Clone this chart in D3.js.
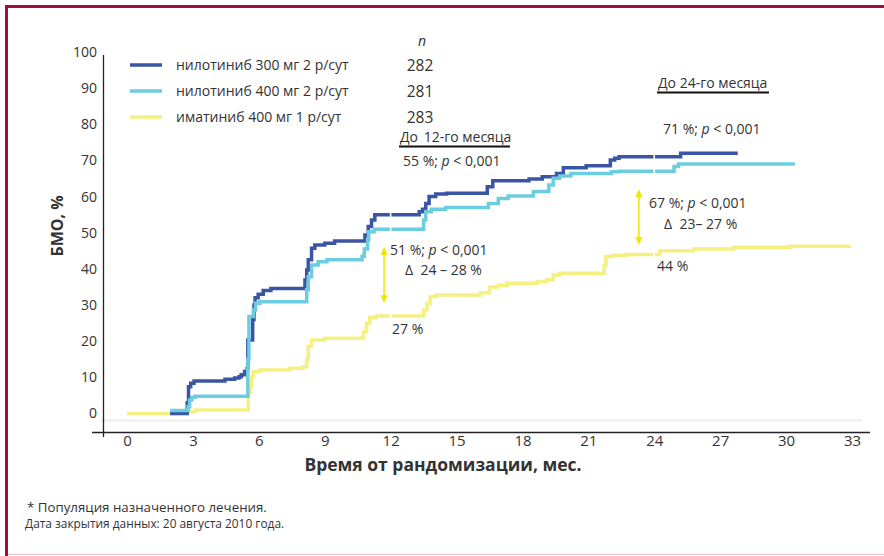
<!DOCTYPE html>
<html>
<head>
<meta charset="utf-8">
<script src="https://cdn.jsdelivr.net/npm/d3@7/dist/d3.min.js"></script>
<style>
  html, body { margin: 0; padding: 0; background: #fff; }
  svg { display: block; }
  text { font-family: "Open Sans", "Noto Sans", sans-serif; fill: #333; white-space: pre; }
</style>
</head>
<body>
<svg id="chart" width="884" height="556"></svg>
<script>
// Time axis (months since randomisation) and response axis (%)
const monthTicks = [0, 3, 6, 9, 12, 15, 18, 21, 24, 27, 30, 33];
const pctTicks = [0, 10, 20, 30, 40, 50, 60, 70, 80, 90, 100];

const armNames = ["нилотиниб 300 мг 2 р/сут", "нилотиниб 400 мг 2 р/сут", "иматиниб 400 мг 1 р/сут"];
const armN = [282, 281, 283];

// Cumulative incidence step points: [month, %], value holds from that month onward
const nilo300 = [[1.96,0],[2.74,3.0],[2.8,7.4],[2.9,8.4],[3.05,9.0],[4.46,9.5],[4.9,9.8],[5.1,10.2],[5.2,10.7],[5.35,11.6],
  [5.47,12.5],[5.5,20.3],[5.72,26],[5.78,30],[5.83,32],[5.97,33],[6.2,34.0],[6.55,34.6],[8.1,36.9],[8.18,39.7],[8.25,42.5],
  [8.4,45.7],[8.55,46.6],[9.0,47.1],[9.45,47.7],[10.83,49.4],[10.98,51.7],[11.13,53.5],[11.28,55.0],[13.3,55.8],[13.45,56.5],
  [13.6,58.1],[13.75,60.0],[14.05,60.7],[14.55,60.9],[16.4,62.7],[16.65,64.4],[18.3,64.9],[18.9,65.5],[19.55,66.4],[19.86,68.0],
  [20.9,68.5],[22.0,70.1],[22.2,70.6],[22.4,71.0],[25.2,72.0],[27.8,72.0]];
const nilo400 = [[1.96,0.8],[2.78,1.9],[2.85,3.7],[2.95,4.5],[3.1,4.8],[5.5,15],[5.55,26.8],[5.75,28.6],[5.85,30.5],[6.05,30.9],
  [8.18,34.2],[8.25,37.8],[8.4,41.1],[8.7,42.0],[9.1,42.5],[10.7,43.5],[10.8,45.5],[10.95,48.0],[11.0,50.3],[11.25,51.0],
  [13.5,53.5],[13.6,55.8],[13.85,56.5],[14.5,57.0],[16.45,58.1],[16.9,59.5],[17.35,60.2],[18.5,61.4],[19.2,63.2],[19.4,65.1],
  [19.7,65.7],[20.2,66.4],[22.05,66.9],[22.4,67.0],[24.9,68.3],[25.1,69.0],[30.4,69.0]];
const imat400 = [[0,0],[2.75,0.5],[3.1,1.0],[5.52,5.6],[5.6,7.4],[5.67,10.2],[5.75,11.6],[6.05,12.0],[7.42,12.5],[8.03,12.9],
  [8.18,15.0],[8.25,18.5],[8.4,20.3],[9.0,20.8],[10.76,22.6],[10.9,25.0],[11.05,26.5],[11.35,27.0],[13.5,28.6],[13.65,30.5],
  [13.8,32.3],[14.05,32.8],[16.07,33.4],[16.5,35.0],[16.85,35.5],[17.3,36.0],[18.67,36.5],[19.1,37.0],[19.4,38.3],[19.7,38.8],
  [21.72,41.0],[21.8,43.4],[22.1,43.8],[22.75,44.0],[24.25,45.0],[25.8,45.5],[27.6,46.0],[30.2,46.3],[32.9,46.5]];

const armColors = ["#3b55a5", "#6dcde0", "#f6ef82"];
const markYellow = "#f2e500";
const frameRed = "#a30d45";

const svg = d3.select("#chart");
const x = d3.scaleLinear().domain([0, 33]).range([127, 852]);
const y = d3.scaleLinear().domain([0, 100]).range([413.5, 52]);

// Page frame
svg.append("line").attr("x1", 6.5).attr("x2", 6.5).attr("y1", 5).attr("y2", 556)
  .attr("stroke", frameRed).attr("stroke-width", 3);
svg.append("line").attr("x1", 5).attr("x2", 884).attr("y1", 6.5).attr("y2", 6.5)
  .attr("stroke", frameRed).attr("stroke-width", 3);
svg.append("line").attr("x1", 8).attr("x2", 884).attr("y1", 554.5).attr("y2", 554.5)
  .attr("stroke", "#e9c7d3").attr("stroke-width", 1.5);

// Faint baseline band under the curves
svg.append("line").attr("x1", 100).attr("x2", 862).attr("y1", 420.5).attr("y2", 420.5)
  .attr("stroke", "#eeeeee").attr("stroke-width", 2);

// Axes
const yAxis = d3.axisLeft(y).tickValues(pctTicks).tickSize(0).tickPadding(6).tickFormat(d3.format("d"));
const gy = svg.append("g").attr("transform", "translate(103,0)").call(yAxis);
gy.select(".domain").remove();
gy.selectAll("text").style("font-size", "14px").attr("fill", "#333").attr("font-family", "Open Sans, sans-serif");
svg.append("line").attr("x1", 103.5).attr("x2", 103.5).attr("y1", 55).attr("y2", 437)
  .attr("stroke", "#222").attr("stroke-width", 1.3);

const xAxis = d3.axisBottom(x).tickValues(monthTicks).tickSize(0).tickPadding(3).tickFormat(d3.format("d"));
const gx = svg.append("g").attr("transform", "translate(0,432)").call(xAxis);
gx.select(".domain").remove();
gx.selectAll("text").style("font-size", "15px").attr("fill", "#333")
  .attr("font-family", "Liberation Sans Narrow, Open Sans, sans-serif");
svg.append("line").attr("x1", 92).attr("x2", 870).attr("y1", 432.5).attr("y2", 432.5)
  .attr("stroke", "#222").attr("stroke-width", 1.5);

// Axis titles
svg.append("text").attr("x", 443).attr("y", 471).attr("text-anchor", "middle")
  .style("font-size", "17.5px").style("font-weight", "700").attr("fill", "#222")
  .text("Время от рандомизации, мес.");
svg.append("text").attr("transform", "translate(63,226) rotate(-90)").attr("text-anchor", "middle")
  .style("font-size", "16px").style("font-weight", "700").attr("fill", "#222")
  .text("БМО, %");

// Step curves
const line = d3.line().x(d => x(d[0])).y(d => y(d[1])).curve(d3.curveStepAfter);
const series = [imat400, nilo300, nilo400];
const seriesColor = [armColors[2], armColors[0], armColors[1]];
series.forEach((s, i) => {
  svg.append("path").datum(s).attr("d", line).attr("fill", "none")
    .attr("stroke", seriesColor[i]).attr("stroke-width", 3.5).attr("stroke-linejoin", "miter");
});

// Small breaks in each curve at the 12- and 24-month landmarks
function valueAt(s, t) {
  let v = s[0][1];
  for (const p of s) { if (p[0] <= t) v = p[1]; }
  return v;
}
[12, 24].forEach(t => {
  series.forEach(s => {
    const v = valueAt(s, t);
    svg.append("line").attr("x1", x(t)).attr("x2", x(t)).attr("y1", y(v) - 4).attr("y2", y(v) + 4)
      .attr("stroke", "#fff").attr("stroke-width", 1.6);
  });
});

// Legend
armNames.forEach((name, i) => {
  const ly = 65 + i * 26;
  svg.append("line").attr("x1", 130).attr("x2", 162).attr("y1", ly).attr("y2", ly)
    .attr("stroke", armColors[i]).attr("stroke-width", 3.5);
  svg.append("text").attr("x", 176).attr("y", ly + 5).style("font-size", "14px").text(name);
  svg.append("text").attr("x", 420).attr("y", ly + 6).attr("text-anchor", "middle")
    .style("font-size", "15.5px").text(armN[i]);
});
svg.append("text").attr("x", 422).attr("y", 46).attr("text-anchor", "middle")
  .style("font-size", "14px").style("font-style", "italic").text("n");

// Annotations
const annSize = "14px";
function pText(xp, yp, pct) {
  const t = svg.append("text").attr("x", xp).attr("y", yp).style("font-size", annSize);
  t.append("tspan").text(pct + " %; ");
  t.append("tspan").style("font-style", "italic").text("p");
  t.append("tspan").text(" < 0,001");
}
function heading(xp, yp, label, w, gap) {
  const t = svg.append("text").attr("x", xp).attr("y", yp).style("font-size", annSize);
  const parts = label.split(" ");
  t.append("tspan").text(parts[0] + " ");
  t.append("tspan").attr("dx", gap).text(parts.slice(1).join(" "));
  svg.append("line").attr("x1", xp - 1).attr("x2", xp - 1 + w).attr("y1", yp + 4.5).attr("y2", yp + 4.5)
    .attr("stroke", "#111").attr("stroke-width", 1.8);
}
heading(400, 142, "До 12-го месяца", 111, 2);
pText(403, 166, 55);
heading(658, 88, "До 24-го месяца", 112, 0);
pText(663, 134, 71);

pText(390, 255, 51);
svg.append("text").attr("x", 405).attr("y", 275).style("font-size", annSize).attr("fill", "#222").text("Δ  24 – 28 %");
svg.append("text").attr("x", 392).attr("y", 334).style("font-size", annSize).text("27 %");

pText(649, 208, 67);
svg.append("text").attr("x", 664).attr("y", 229).style("font-size", annSize).attr("fill", "#222").text("Δ  23– 27 %");
svg.append("text").attr("x", 657).attr("y", 271).style("font-size", annSize).text("44 %");

// Double-headed difference arrows
function dArrow(t, vTop, vBot) {
  const xp = x(t), y1 = y(vTop), y2 = y(vBot);
  svg.append("line").attr("x1", xp).attr("x2", xp).attr("y1", y1 + 6).attr("y2", y2 - 6)
    .attr("stroke", markYellow).attr("stroke-width", 1.5);
  svg.append("path").attr("d", `M${xp},${y1} L${xp - 3.5},${y1 + 8} L${xp + 3.5},${y1 + 8} Z`).attr("fill", markYellow);
  svg.append("path").attr("d", `M${xp},${y2} L${xp - 3.5},${y2 - 8} L${xp + 3.5},${y2 - 8} Z`).attr("fill", markYellow);
}
dArrow(11.7, 46.1, 30.5);
dArrow(23.3, 62.0, 46.6);

// Footnotes
svg.append("text").attr("x", 27).attr("y", 512).style("font-size", "13.3px").text("* Популяция назначенного лечения.");
svg.append("text").attr("x", 25).attr("y", 528).style("font-size", "11.9px").text("Дата закрытия данных: 20 августа 2010 года.");
</script>
</body>
</html>
